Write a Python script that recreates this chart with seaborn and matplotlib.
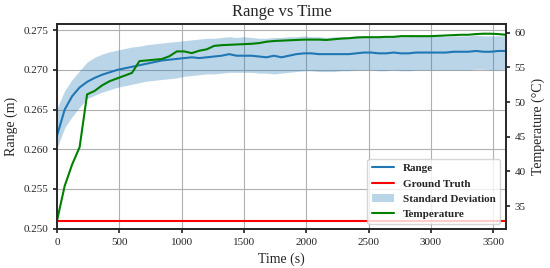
import numpy as np
import pandas as pd
import matplotlib
matplotlib.use("Agg")
import matplotlib.pyplot as plt
import seaborn as sns

# tiempo en segundos, una muestra por minuto
tiempo = list(range(0, 3601, 60))

rango = [0.2618, 0.2650, 0.2667, 0.2678, 0.2685, 0.2690, 0.2694, 0.2697, 0.2700, 0.2702,
         0.2704, 0.2706, 0.2708, 0.2710, 0.2712, 0.2713, 0.2714, 0.2715, 0.2716, 0.2715,
         0.2716, 0.2717, 0.2718, 0.2720, 0.2718, 0.2718, 0.2718, 0.2717, 0.2716, 0.2718,
         0.2716, 0.2718, 0.2720, 0.2721, 0.2721, 0.2720, 0.2720, 0.2720, 0.2720, 0.2720,
         0.2721, 0.2722, 0.2722, 0.2721, 0.2721, 0.2722, 0.2721, 0.2721, 0.2722, 0.2722,
         0.2722, 0.2722, 0.2722, 0.2723, 0.2723, 0.2723, 0.2724, 0.2723, 0.2723, 0.2724,
         0.2724]

std_alto = [0.2652, 0.2674, 0.2688, 0.2699, 0.2710, 0.2716, 0.2720, 0.2723, 0.2725, 0.2727,
            0.2729, 0.2730, 0.2732, 0.2733, 0.2734, 0.2735, 0.2736, 0.2737, 0.2738, 0.2739,
            0.2740, 0.2740, 0.2741, 0.2742, 0.2741, 0.2742, 0.2741, 0.2740, 0.2740, 0.2741,
            0.2741, 0.2742, 0.2742, 0.2743, 0.2742, 0.2742, 0.2741, 0.2742, 0.2742, 0.2742,
            0.2743, 0.2743, 0.2742, 0.2742, 0.2742, 0.2743, 0.2742, 0.2742, 0.2743, 0.2743,
            0.2743, 0.2743, 0.2742, 0.2743, 0.2743, 0.2743, 0.2744, 0.2743, 0.2743, 0.2743,
            0.2743]

std_bajo = [0.2602, 0.2627, 0.2641, 0.2653, 0.2664, 0.2668, 0.2672, 0.2675, 0.2678, 0.2680,
            0.2682, 0.2684, 0.2686, 0.2687, 0.2688, 0.2689, 0.2690, 0.2692, 0.2693, 0.2694,
            0.2695, 0.2695, 0.2696, 0.2697, 0.2697, 0.2697, 0.2697, 0.2696, 0.2696, 0.2695,
            0.2696, 0.2697, 0.2698, 0.2699, 0.2699, 0.2698, 0.2698, 0.2698, 0.2699, 0.2699,
            0.2700, 0.2700, 0.2700, 0.2699, 0.2699, 0.2700, 0.2699, 0.2699, 0.2700, 0.2700,
            0.2700, 0.2700, 0.2700, 0.2700, 0.2700, 0.2700, 0.2701, 0.2701, 0.2700, 0.2700,
            0.2701]

temperatura = [33.0, 37.9, 41.0, 43.5, 51.1, 51.6, 52.4, 53.0, 53.4, 53.8,
               54.2, 55.9, 56.0, 56.1, 56.2, 56.6, 57.3, 57.3, 57.05, 57.4,
               57.6, 58.1, 58.2, 58.25, 58.3, 58.35, 58.4, 58.5, 58.7, 58.8,
               58.85, 58.9, 58.95, 59.0, 59.0, 59.0, 58.95, 59.05, 59.15, 59.2,
               59.3, 59.35, 59.35, 59.35, 59.4, 59.4, 59.5, 59.5, 59.5, 59.5,
               59.5, 59.55, 59.6, 59.65, 59.7, 59.7, 59.8, 59.85, 59.85, 59.8,
               59.7]

verdad = 0.251  # valor real de referencia

df = pd.DataFrame({"t": tiempo, "rango": rango, "alto": std_alto,
                   "bajo": std_bajo, "temp": temperatura})
df["verdad"] = verdad

sns.set_theme(style="ticks")
plt.rcParams["font.family"] = ["Liberation Serif", "DejaVu Serif"]
plt.rcParams["mathtext.fontset"] = "stix"

fig, ax = plt.subplots(figsize=(5.5, 2.68), dpi=100)
fig.subplots_adjust(left=0.104, right=0.9195, top=0.9104, bottom=0.1444)

ax.fill_between(df["t"], df["bajo"], df["alto"], color="#1f77b4", alpha=0.3,
                linewidth=0, label="Standard Deviation")
sns.lineplot(data=df, x="t", y="rango", ax=ax, color="#1f77b4", linewidth=1.5, label="Range")
sns.lineplot(data=df, x="t", y="verdad", ax=ax, color="red", linewidth=1.5, label="Ground Truth")

ax2 = ax.twinx()
sns.lineplot(data=df, x="t", y="temp", ax=ax2, color="green", linewidth=1.5, label="Temperature")

ax.set_xlim(0, 3600)
ax.set_ylim(0.2499, 0.2758)
ax2.set_ylim(31.65, 61.25)
ax.set_yticks([0.250, 0.255, 0.260, 0.265, 0.270, 0.275])
ax.set_xticks(range(0, 3501, 500))
ax2.set_yticks([35, 40, 45, 50, 55, 60])

ax.grid(True, color="#b0b0b0", linewidth=0.8)
ax.set_title("Range vs Time", fontsize=12)
ax.set_xlabel("Time (s)", fontsize=10)
ax.set_ylabel("Range (m)", fontsize=10)
ax2.set_ylabel("Temperature (°C)", fontsize=10)
ax.tick_params(labelsize=8, length=3)
ax2.tick_params(labelsize=8, length=3)
for a in (ax, ax2):
    for s in a.spines.values():
        s.set_color("#262626")
        s.set_linewidth(1.2)

# juntar leyendas de ambos ejes en el orden del original
h1, l1 = ax.get_legend_handles_labels()
h2, l2 = ax2.get_legend_handles_labels()
ax2.get_legend().remove()
ax.get_legend().remove()
orden = {lab: h for h, lab in zip(h1 + h2, l1 + l2)}
etiquetas = ["Range", "Ground Truth", "Standard Deviation", "Temperature"]
ax2.legend([orden[e] for e in etiquetas], etiquetas, loc="lower right",
           prop={"weight": "bold", "size": 8}, framealpha=0.8)

fig.savefig("out.png", dpi=100)
